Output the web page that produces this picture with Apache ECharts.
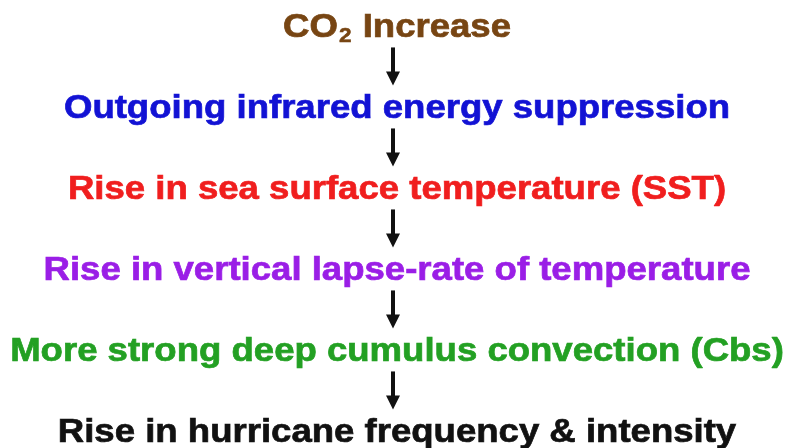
<!DOCTYPE html>
<html>
<head>
<meta charset="utf-8">
<script src="https://cdn.jsdelivr.net/npm/echarts@6/dist/echarts.min.js"></script>
<style>html,body{margin:0;padding:0;background:#fff;}#c{width:786px;height:448px;}</style>
</head>
<body>
<div id="c"></div>
<script>
// Flow steps (top to bottom)
var steps = [
  "{a|CO}{s|2}{a| Increase}",
  "Outgoing infrared energy suppression",
  "Rise in sea surface temperature (SST)",
  "Rise in vertical lapse-rate of temperature",
  "More strong deep cumulus convection (Cbs)",
  "Rise in hurricane frequency & intensity"
];
var stepColors = ["#774513", "#1212d4", "#f01e1e", "#9a1ee6", "#23a023", "#111111"];
var stepIndex = [0, 1, 2, 3, 4, 5];

var FAM = 'Liberation Sans';
var chart = echarts.init(document.getElementById('c'));
chart.setOption({
  backgroundColor: '#ffffff',
  animation: false,
  grid: {left: 0, right: 0, top: 28, bottom: 15},
  xAxis: {type: 'value', min: 0, max: 1, show: false},
  yAxis: {type: 'value', min: 0, max: 5, inverse: true, show: false},
  series: [{
    type: 'custom',
    data: stepIndex.map(function (i) { return [0.5, i]; }),
    renderItem: function (params, api) {
      var i = params.dataIndex;
      var p = api.coord([api.value(0), api.value(1)]);
      var children = [{
        type: 'text',
        x: p[0] + 4, y: p[1],
        scaleX: 1.075, scaleY: 1,
        style: {
          text: steps[i],
          fill: stepColors[i],
          stroke: stepColors[i],
          lineWidth: 0.7,
          fontFamily: FAM,
          fontSize: 34,
          fontWeight: 'bold',
          align: 'center',
          verticalAlign: 'middle',
          rich: {
            a: {fontSize: 34, fontWeight: 'bold', fontFamily: FAM, fill: stepColors[i], stroke: stepColors[i], lineWidth: 0.7},
            s: {fontSize: 21, fontWeight: 'bold', fontFamily: FAM, fill: stepColors[i], stroke: stepColors[i], lineWidth: 0.5, padding: [17, 1, 0, 1]}
          }
        }
      }];
      if (i < steps.length - 1) {
        var a = api.coord([api.value(0), i + 0.24]);
        var b = api.coord([api.value(0), i + 0.71]);
        var ax = a[0];
        children.push({
          type: 'rect',
          shape: {x: ax - 2, y: a[1], width: 4, height: (b[1] - a[1]) - 10},
          style: {fill: '#111'}
        });
        children.push({
          type: 'polygon',
          shape: {points: [[ax - 7, b[1] - 14], [ax + 7, b[1] - 14], [ax, b[1]]]},
          style: {fill: '#111'}
        });
      }
      return {type: 'group', children: children};
    }
  }]
});
</script>
</body>
</html>
